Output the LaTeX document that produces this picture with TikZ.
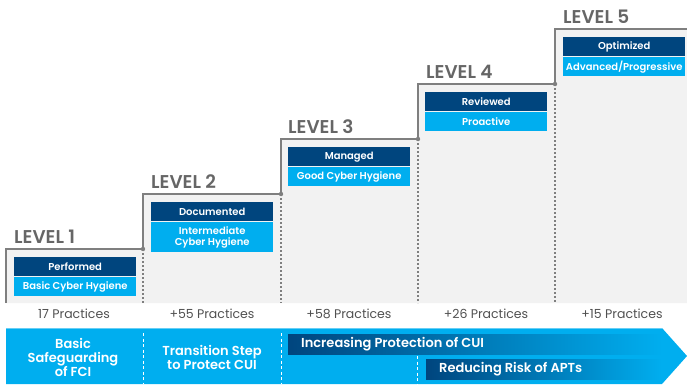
\documentclass[tikz,border=0pt]{standalone}
\usepackage{fontspec}
\setmainfont{Poppins}[BoldFont={Poppins SemiBold}]
\usetikzlibrary{calc}
\definecolor{cmdark}{HTML}{00457E}
\definecolor{cmlight}{HTML}{00AEEF}
\definecolor{cmgray}{HTML}{F2F2F2}
\definecolor{cmline}{HTML}{7F7F7F}
\definecolor{cmtext}{HTML}{666666}
\definecolor{cmprac}{HTML}{505050}
\tikzset{
  lvltitle/.style={anchor=west, inner sep=0pt, text=cmtext, font=\bfseries\fontsize{18.5}{20}\selectfont},
  darkbox/.style={anchor=north west, fill=cmdark, text=white, minimum width=122pt, minimum height=19pt, inner sep=0pt, font=\bfseries\fontsize{10}{11}\selectfont},
  lightbox/.style={anchor=north west, fill=cmlight, text=white, minimum width=122pt, minimum height=19pt, inner sep=0pt, align=center, font=\bfseries\fontsize{10}{11.5}\selectfont},
  practice/.style={inner sep=0pt, text=cmprac, font=\fontsize{12.5}{14}\selectfont},
  bandtext/.style={inner sep=0pt, text=white, align=center, font=\bfseries\fontsize{13}{14}\selectfont},
  stepline/.style={cmline, line width=1.6pt},
  dotline/.style={cmline, line width=1.1pt, dash pattern=on 2pt off 2pt},
  whitedash/.style={white, line width=1pt, dash pattern=on 3pt off 2.5pt},
}
\begin{document}
\begin{tikzpicture}[x=1pt,y=-1pt]
  \useasboundingbox (0,0) rectangle (687,386);
  % staircase background
  \fill[cmgray] (6,303) -- (6,249) -- (143,249) -- (143,194) -- (281,194) -- (281,139)
    -- (418,139) -- (418,84) -- (555,84) -- (555,29) -- (687,29) -- (687,303) -- cycle;
  \coordinate (s1) at (143,249);
  \coordinate (s2) at (281,194);
  \coordinate (s3) at (418,139);
  \coordinate (s4) at (555,84);
  \draw[dotline] (s1) -- (143,303);
  \draw[dotline] (s2) -- (281,303);
  \draw[dotline] (s3) -- (418,303);
  \draw[dotline] (s4) -- (555,303);
  \draw[stepline] (6,303) -- (6,249) -- (s1) -- (143,194) -- (s2) -- (281,139)
    -- (s3) -- (418,84) -- (s4) -- (555,29) -- (687,29);
  \fill[cmline] (s1) circle (2.2pt);
  \fill[cmline] (s2) circle (2.2pt);
  \fill[cmline] (s3) circle (2.2pt);
  \fill[cmline] (s4) circle (2.2pt);
  % level titles
  \node[lvltitle] (lvl1) at (14,237) {LEVEL 1};
  \node[lvltitle] (lvl2) at (151,182) {LEVEL 2};
  \node[lvltitle] (lvl3) at (288,127) {LEVEL 3};
  \node[lvltitle] (lvl4) at (426,72) {LEVEL 4};
  \node[lvltitle] (lvl5) at (563,17) {LEVEL 5};
  % level boxes
  \node[darkbox] (name1) at (14,257) {Performed};
  \node[lightbox] (desc1) at (14,277) {Basic Cyber Hygiene};
  \node[darkbox] (name2) at (151,202) {Documented};
  \node[lightbox, minimum height=30pt] (desc2) at (151,222) {Intermediate\\Cyber Hygiene};
  \node[darkbox] (name3) at (288,147) {Managed};
  \node[lightbox] (desc3) at (288,167) {Good Cyber Hygiene};
  \node[darkbox] (name4) at (425,92) {Reviewed};
  \node[lightbox] (desc4) at (425,112) {Proactive};
  \node[darkbox] (name5) at (563,37) {Optimized};
  \node[lightbox] (desc5) at (563,57) {Advanced/Progressive};
  % practices
  \node[practice] (prac1) at (74,314) {17 Practices};
  \node[practice] (prac2) at (212,314) {+55 Practices};
  \node[practice] (prac3) at (349,314) {+58 Practices};
  \node[practice] (prac4) at (486,314) {+26 Practices};
  \node[practice] (prac5) at (622,314) {+15 Practices};
  % bottom arrow band
  \fill[cmlight] (6,328) -- (662,328) -- (687,356) -- (662,384) -- (6,384) -- cycle;
  \draw[cmlight!60!white, line width=0.6pt] (6,328.3) -- (662,328.3);
  \shade[left color=cmdark, right color=cmlight] (288,334) rectangle (662,354);
  \shade[left color=cmdark, right color=cmlight] (426,359) rectangle (662,379);
  \draw[whitedash] (143,333) -- (143,384);
  \draw[whitedash] (281,333) -- (281,384);
  \draw[whitedash] (417,356) -- (417,384);
  \node[bandtext] (goal1) at (73,357) {Basic\\Safeguarding\\of FCI};
  \node[bandtext] (goal2) at (212,357) {Transition Step\\to Protect CUI};
  \node[bandtext, anchor=west] (goal3) at (301,344) {Increasing Protection of CUI};
  \node[bandtext, anchor=west] (goal4) at (439,369) {Reducing Risk of APTs};
\end{tikzpicture}
\end{document}
